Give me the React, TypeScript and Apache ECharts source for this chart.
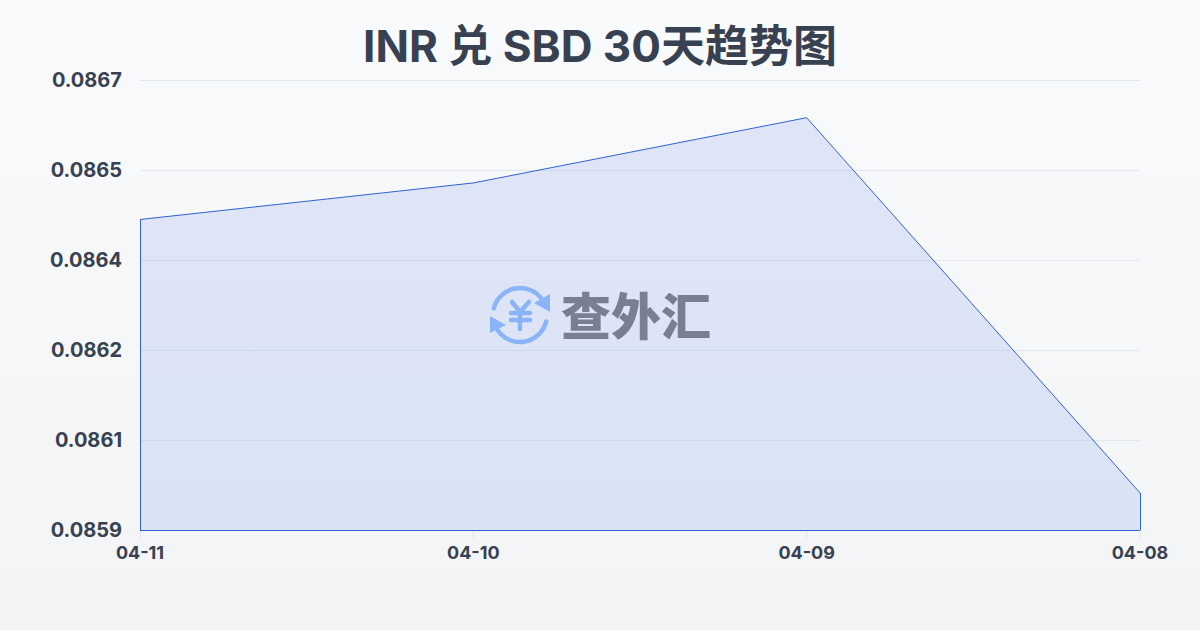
import React, { useEffect, useRef } from "react";
import * as echarts from "echarts";

const titleText = "INR 兑 SBD 30天趋势图";
const categories = ["04-11", "04-10", "04-09", "04-08"];
const rates = [0.086452, 0.086517, 0.086633, 0.085966];
const yMin = 0.0859;
const yMax = 0.0867;
const yStep = 0.00016;
const watermarkText = "查外汇";

const FONT = 'Inter, "Noto Sans CJK SC", sans-serif';
const CJK_FONT = '"Noto Sans CJK SC", "Noto Sans", sans-serif';
const LINE = "#2f62cf";
const TEXT = "#374151";
const LOGO_BLUE = "#8ab4f8";

const outlineSegment = (a: [string, number], b: [string, number]) => [{ coord: a }, { coord: b }];

export default function App() {
  const ref = useRef<HTMLDivElement>(null);
  useEffect(() => {
    document.body.style.margin = "0";
    const chart = echarts.init(ref.current!, null, { renderer: "svg" });
    const first = categories[0];
    const last = categories[categories.length - 1];
    const logoStroke = { stroke: LOGO_BLUE, lineWidth: 4.5, fill: "none", lineCap: "round" };
    const yenStroke = { ...logoStroke, lineWidth: 4.5 };
    const deg = (d: number) => (d * Math.PI) / 180;
    chart.setOption({
      animation: false,
      backgroundColor: new echarts.graphic.LinearGradient(0, 0, 0, 1, [
        { offset: 0, color: "#f9fafc" },
        { offset: 1, color: "#f3f4f6" },
      ]),
      title: {
        text: titleText,
        left: "center",
        top: 19,
        textStyle: { fontFamily: FONT, fontSize: 44, fontWeight: "bold", color: TEXT },
      },
      grid: { left: 140, right: 60, top: 80, bottom: 100 },
      xAxis: {
        type: "category",
        data: categories,
        boundaryGap: false,
        axisLine: { show: false },
        axisTick: { show: true, length: 10, lineStyle: { color: "#e2e8f0" } },
        axisLabel: {
          fontFamily: FONT,
          fontSize: 18,
          fontWeight: "bold",
          color: TEXT,
          margin: 13,
          interval: 0,
          showMinLabel: true,
          showMaxLabel: true,
        },
      },
      yAxis: {
        type: "value",
        min: yMin,
        max: yMax,
        interval: yStep,
        axisLine: { show: false },
        axisTick: { show: false },
        splitLine: { lineStyle: { color: "#e2e8f0", width: 1 } },
        axisLabel: {
          fontFamily: FONT,
          fontSize: 20,
          fontWeight: "bold",
          color: TEXT,
          margin: 18,
          padding: [0, 0, 4, 0],
          formatter: (v: number) => v.toFixed(4),
        },
      },
      series: [
        {
          type: "line",
          data: rates,
          symbol: "none",
          smooth: false,
          lineStyle: { color: LINE, width: 1 },
          areaStyle: { color: "rgba(37,99,235,0.18)", origin: "start" },
          markLine: {
            silent: true,
            symbol: "none",
            label: { show: false },
            lineStyle: { color: LINE, width: 1, type: "solid" },
            data: [
              outlineSegment([first, yMin], [first, rates[0]]),
              outlineSegment([first, yMin], [last, yMin]),
              outlineSegment([last, yMin], [last, rates[rates.length - 1]]),
            ],
          },
        },
      ],
      graphic: [
        { type: "arc", z: 100, shape: { cx: 520, cy: 315, r: 27, startAngle: deg(194), endAngle: deg(325), clockwise: true }, style: logoStroke },
        { type: "arc", z: 100, shape: { cx: 520, cy: 315, r: 27, startAngle: deg(14), endAngle: deg(145), clockwise: true }, style: logoStroke },
        { type: "polygon", z: 100, shape: { points: [[550, 294], [550, 312], [534, 303]] }, style: { fill: LOGO_BLUE } },
        { type: "polygon", z: 100, shape: { points: [[490, 316], [490, 333], [506, 325]] }, style: { fill: LOGO_BLUE } },
        { type: "polyline", z: 100, shape: { points: [[512, 302], [520, 312], [529, 302]] }, style: yenStroke },
        { type: "line", z: 100, shape: { x1: 511, y1: 313, x2: 530, y2: 313 }, style: yenStroke },
        { type: "line", z: 100, shape: { x1: 511, y1: 320, x2: 530, y2: 320 }, style: yenStroke },
        { type: "line", z: 100, shape: { x1: 520, y1: 312, x2: 520, y2: 329 }, style: yenStroke },
        {
          type: "text",
          z: 100,
          x: 561,
          y: 313,
          style: {
            text: watermarkText,
            fontFamily: CJK_FONT,
            fontSize: 50,
            fontWeight: 900,
            fill: "#777f90",
            verticalAlign: "middle",
          },
        },
      ],
    });
    return () => chart.dispose();
  }, []);
  return <div ref={ref} style={{ width: 1200, height: 630 }} />;
}
